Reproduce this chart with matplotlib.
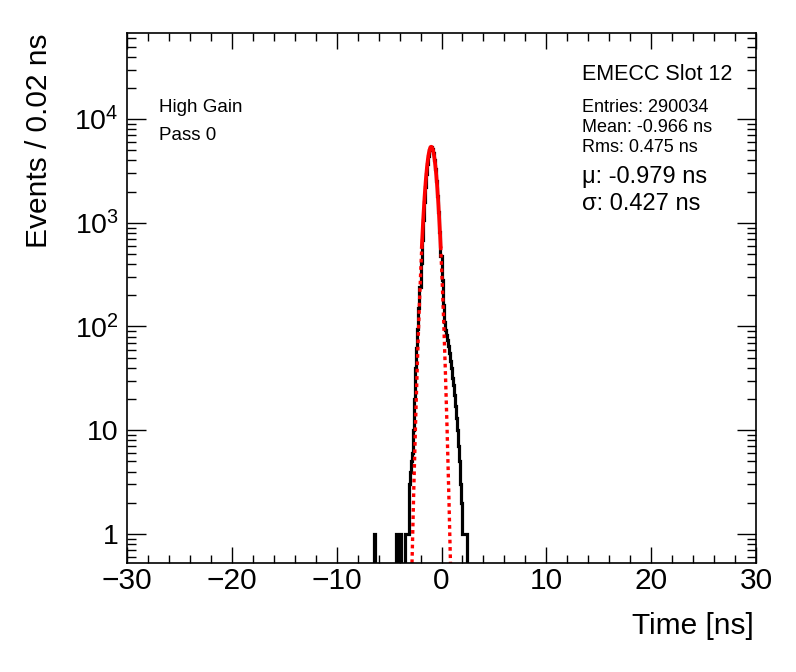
import numpy as np
import matplotlib
matplotlib.use("Agg")
import matplotlib.pyplot as plt
from matplotlib.ticker import FixedLocator, FixedFormatter, MultipleLocator

plt.rcParams['font.family'] = ['Liberation Sans', 'DejaVu Sans']
plt.rcParams['mathtext.fontset'] = 'custom'
plt.rcParams['mathtext.rm'] = 'Liberation Sans'

# histogram: counts per 0.02 ns, read in 0.1 ns steps starting at -6.5 ns
bin_start = -6.5
bin_step = 0.1
counts = [0, 1] + [0] * 20 + [
    1, 0, 0, 1, 0, 0, 0, 0,                      # -4.25 .. -3.55
    1, 1, 1, 1, 3, 4, 5, 6, 10, 20,              # -3.45 .. -2.55
    40, 62, 95, 150, 240, 410, 680, 1060, 1574, 2213,   # -2.45 .. -1.55
    2945, 3709, 4423, 4994, 5336, 5398, 5169, 4687, 4020, 3265,  # -1.45 .. -0.55
    2512, 1828, 1260, 822, 480, 280, 160, 110, 92, 82,   # -0.45 .. 0.45
    74, 65, 56, 47, 40, 32, 27, 22, 17, 13,      # 0.55 .. 1.45
    10, 7, 5, 3, 2, 1, 1, 1, 1, 0,               # 1.55 .. 2.45
]

# gaussian fit
fit_amp = 5410
fit_mu = -0.979
fit_sigma = 0.427
fit_lo = -1.88
fit_hi = -0.08

title = "EMECC Slot 12"
stats = ["Entries: 290034", "Mean: -0.966 ns", "Rms: 0.475 ns"]
fit_text = ["\u03bc: -0.979 ns", "\u03c3: 0.427 ns"]
info = ["High Gain", "Pass 0"]

ytick_vals = [1, 10, 100, 1000, 10000]
ytick_labels = ["1", "10", r"$\mathregular{10^{2}}$", r"$\mathregular{10^{3}}$", r"$\mathregular{10^{4}}$"]


def gaus(x):
    return fit_amp * np.exp(-0.5 * ((x - fit_mu) / fit_sigma) ** 2)


fig = plt.figure(figsize=(7.96, 6.72), dpi=100)
ax = fig.add_axes([0.1596, 0.1622, 0.7901, 0.7887])

edges = bin_start + bin_step * np.arange(len(counts) + 1)
ax.stairs(counts, edges, color='black', lw=2.3, baseline=1e-3)

xs_in = np.linspace(fit_lo, fit_hi, 200)
ax.plot(xs_in, gaus(xs_in), color='red', lw=2.7)
xs_l = np.linspace(-3.2, fit_lo, 200)
xs_r = np.linspace(fit_hi, 1.3, 200)
ax.plot(xs_l, gaus(xs_l), color='red', lw=2.4, ls=(0, (1.1, 1.1)))
ax.plot(xs_r, gaus(xs_r), color='red', lw=2.4, ls=(0, (1.1, 1.1)))

ax.set_yscale('log')
ax.set_xlim(-30, 30)
ax.set_ylim(0.525, 67500)

ax.xaxis.set_major_locator(MultipleLocator(10))
ax.xaxis.set_minor_locator(MultipleLocator(2))
ax.yaxis.set_major_locator(FixedLocator(ytick_vals))
ax.yaxis.set_major_formatter(FixedFormatter(ytick_labels))
minor = [m * 10.0 ** e for e in range(-1, 5) for m in range(2, 10)]
ax.yaxis.set_minor_locator(FixedLocator(minor))
ax.yaxis.set_minor_formatter(FixedFormatter([""] * len(minor)))

ax.tick_params(which='both', direction='in', top=True, right=True, width=1)
ax.tick_params(axis='x', which='major', length=11.5, labelsize=21.5, pad=3)
ax.tick_params(axis='x', which='minor', length=5.8)
ax.tick_params(axis='y', which='major', length=13.7, labelsize=20.5, pad=6)
ax.tick_params(axis='y', which='minor', length=6.8)
for s in ax.spines.values():
    s.set_linewidth(1.2)

fig.text(754 / 796, 1 - 634 / 672, "Time [ns]", ha='right', va='baseline', fontsize=21.5)
fig.text(39 / 796, 1 - 33 / 672, "Events / 0.02 ns", ha='center', va='top',
         rotation=90, fontsize=21.5)

fig.text(159 / 796, 1 - 108 / 672, info[0], ha='left', va='center', fontsize=13.5)
fig.text(159 / 796, 1 - 135 / 672, info[1], ha='left', va='center', fontsize=13.5)

fig.text(582 / 796, 1 - 74 / 672, title, ha='left', va='center', fontsize=15.5)
for i, s in enumerate(stats):
    fig.text(582 / 796, 1 - (107 + 20 * i) / 672, s, ha='left', va='center', fontsize=13)
for i, s in enumerate(fit_text):
    fig.text(582 / 796, 1 - (177 + 27 * i) / 672, s, ha='left', va='center', fontsize=17)

fig.savefig("out.png", dpi=100)
